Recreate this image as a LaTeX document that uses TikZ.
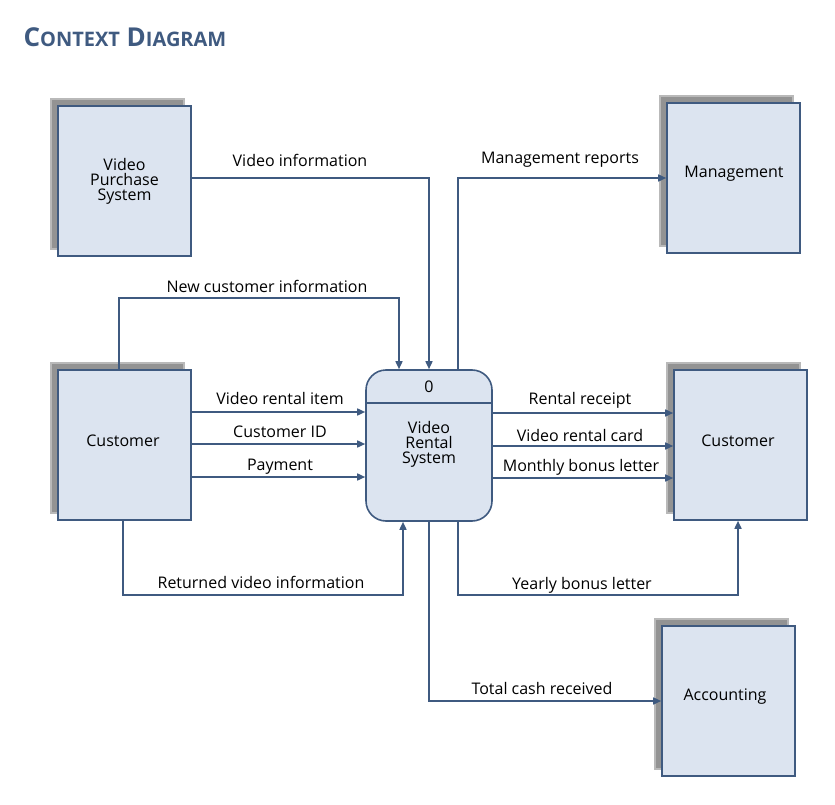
\documentclass[tikz,border=0pt]{standalone}
\usepackage{fontspec}
\setmainfont{Open Sans}
\usetikzlibrary{arrows.meta}
\definecolor{flowline}{HTML}{3F5A80}
\definecolor{boxfill}{HTML}{DCE4F0}
\tikzset{
	x=1pt, y=-1pt,
	>={Triangle[length=8pt,width=7pt]},
	flow/.style={->, draw=flowline, line width=1.6pt},
	entity/.style={draw=flowline, fill=boxfill, line width=1.6pt, align=center, font=\fontsize{16}{18}\selectfont},
	shade/.style={fill=gray!85, draw=gray!55, line width=2pt},
	lbl/.style={font=\fontsize{16}{18}\selectfont, inner sep=1pt}
}
\newcommand{\entitybox}[5]{%
	\fill[shade] (#1-7,#2-7) rectangle (#3-7,#4-7);
	\node[entity, minimum width=#3-#1, minimum height=#4-#2] (#5) at ({(#1+#3)/2},{(#2+#4)/2}) {};
}
\begin{document}
\begin{tikzpicture}
	\useasboundingbox (0,0) rectangle (835,805);
	% title
	\node[anchor=base west, text=flowline, font=\bfseries\fontsize{26}{28}\selectfont] (title) at (20,47) {C{\fontsize{20}{22}\selectfont ONTEXT} D{\fontsize{20}{22}\selectfont IAGRAM}};
	
	% external entities
	\entitybox{58}{106}{191}{256}{vps}
	\node[font=\fontsize{16}{18}\selectfont, align=center] at (vps) {Video\\[-3pt]Purchase\\[-3pt]System};
	\entitybox{667}{103}{800}{253}{mgmt}
	\node[font=\fontsize{16}{18}\selectfont] at (734,174) {Management};
	\entitybox{58}{370}{191}{520}{custL}
	\node[font=\fontsize{16}{18}\selectfont] at (123,441) {Customer};
	\entitybox{674}{370}{807}{520}{custR}
	\node[font=\fontsize{16}{18}\selectfont] at (738,441) {Customer};
	\entitybox{662}{626}{795}{776}{acct}
	\node[font=\fontsize{16}{18}\selectfont] at (725,697) {Accounting};
	
	% process
	\node[entity, rounded corners=20pt, minimum width=126pt, minimum height=151pt] (vrs) at (429,445.5) {};
	\draw[flowline, line width=1.6pt] (vrs.west |- 0,403) -- (vrs.east |- 0,403);
	\node[font=\fontsize{16}{18}\selectfont] (num) at (429,387) {0};
	\node[font=\fontsize{16}{18}\selectfont, align=center] (vrsname) at (429,444) {Video\\[-3pt]Rental\\[-3pt]System};
	
	% flows
	\draw[flow] (vps.east |- 0,178) -| (vrs.north -| 429,0);
	\node[lbl] at (300,160) {Video information};
	\draw[flow] (vrs.north -| 458,0) |- (mgmt.west |- 0,178);
	\node[lbl] at (560,160) {Management reports};
	\draw[flow] (custL.north -| 119,0) |- (399,298) -- (vrs.north -| 399,0);
	\node[lbl] at (267,286) {New customer information};
	
	\draw[flow] (custL.east |- 0,412) -- (vrs.west |- 0,412);
	\node[lbl] at (280,398) {Video rental item};
	\draw[flow] (custL.east |- 0,444) -- (vrs.west |- 0,444);
	\node[lbl] at (280,432) {Customer ID};
	\draw[flow] (custL.east |- 0,477) -- (vrs.west |- 0,477);
	\node[lbl] at (280,467) {Payment};
	
	\draw[flow] (custL.south -| 123,0) |- (403,595) -- (vrs.south -| 403,0);
	\node[lbl] at (261,582) {Returned video information};
	
	\draw[flow] (vrs.east |- 0,413) -- (custR.west |- 0,413);
	\node[lbl] at (580,400) {Rental receipt};
	\draw[flow] (vrs.east |- 0,446) -- (custR.west |- 0,446);
	\node[lbl] at (580,435) {Video rental card};
	\draw[flow] (vrs.east |- 0,478) -- (custR.west |- 0,478);
	\node[lbl] at (581,467) {Monthly bonus letter};
	
	\draw[flow] (vrs.south -| 458,0) |- (738,595) -- (custR.south -| 738,0);
	\node[lbl] at (582,585) {Yearly bonus letter};
	\draw[flow] (vrs.south -| 429,0) |- (acct.west |- 0,701);
	\node[lbl] at (542,688) {Total cash received};
\end{tikzpicture}
\end{document}
